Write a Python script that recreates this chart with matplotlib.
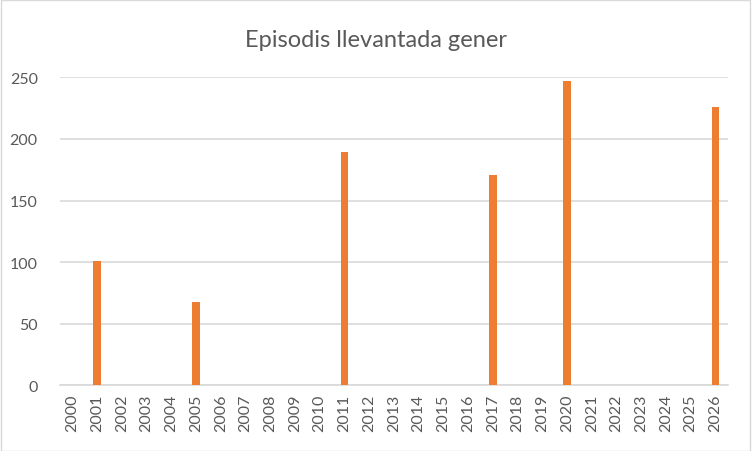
import matplotlib
matplotlib.use("Agg")
import matplotlib.pyplot as plt

plt.rcParams['font.family'] = ['Lato', 'DejaVu Sans']

years = [str(y) for y in range(2000, 2027)]
values = [0, 101, 0, 0, 0, 68, 0, 0, 0, 0, 0, 189, 0, 0, 0, 0, 0, 171, 0, 0, 247, 0, 0, 0, 0, 0, 226]
title = "Episodis llevantada gener"
yticks = [0, 50, 100, 150, 200, 250]

fig = plt.figure(figsize=(7.52, 4.52), dpi=100)
fig.patches.append(plt.Rectangle((0.001, 0.001), 0.997, 0.996, transform=fig.transFigure,
                                 fill=False, edgecolor='#D9D9D9', linewidth=1))
ax = fig.add_axes([0.0798, 0.145, 0.888, 0.682])
x = list(range(len(years)))
ax.bar(x, values, width=0.3, color='#ED7D31', zorder=3)
ax.set_xlim(-0.5, len(years) - 0.5)
ax.set_ylim(0, 250)
ax.set_yticks(yticks)
ax.set_yticklabels([str(v) for v in yticks], fontsize=11.5, color='#595959')
ax.set_xticks(x)
ax.set_xticklabels(years, rotation=90, fontsize=11.5, color='#595959')
ax.tick_params(axis='both', length=0, pad=6)
ax.tick_params(axis='y', pad=16)
ax.grid(axis='y', color='#D9D9D9', linewidth=1.2, zorder=0)
for s in ['top', 'right', 'left']:
    ax.spines[s].set_visible(False)
ax.spines['bottom'].set_color('#D9D9D9')
ax.spines['bottom'].set_linewidth(1.2)
fig.text(0.5, 0.91, title, ha='center', va='center', fontsize=17, color='#595959')
fig.savefig("out.png", dpi=100)
